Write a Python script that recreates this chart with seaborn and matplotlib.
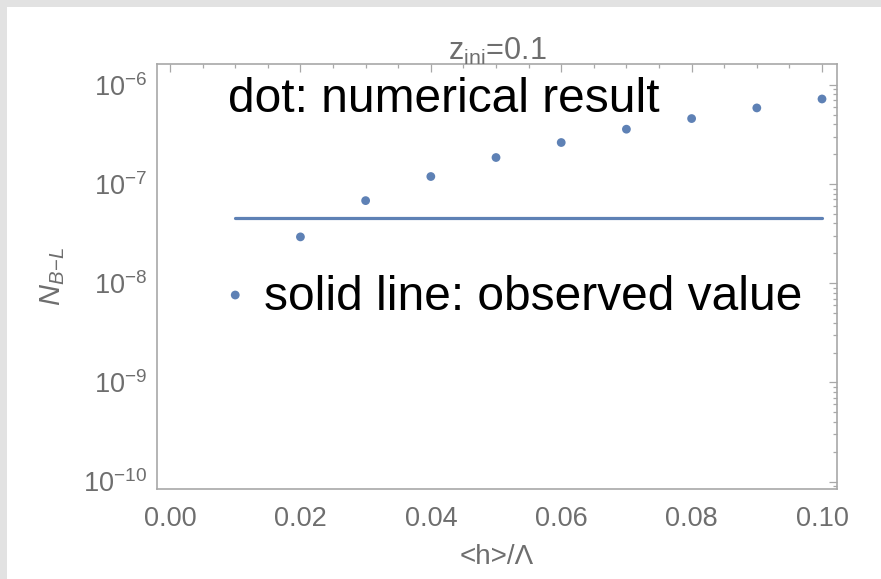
import matplotlib
matplotlib.use("Agg")
import matplotlib.pyplot as plt
import matplotlib.ticker as mticker
from matplotlib.patches import Rectangle
import numpy as np
import pandas as pd
import seaborn as sns

# ---- data ----
h_over_lambda = [0.01, 0.02, 0.03, 0.04, 0.05, 0.06, 0.07, 0.08, 0.09, 0.10]
n_bl = [7.6e-9, 2.93e-8, 6.8e-8, 1.19e-7, 1.85e-7, 2.62e-7, 3.57e-7, 4.57e-7, 5.85e-7, 7.2e-7]
obs_x = [0.01, 0.10]
obs_y = [4.5e-8, 4.5e-8]
x_ticks = [0.00, 0.02, 0.04, 0.06, 0.08, 0.10]
x_tick_labels = ["0.00", "0.02", "0.04", "0.06", "0.08", "0.10"]
title = r"z$_{\mathrm{ini}}$=0.1"
xlabel = "<h>/Λ"
ylabel = r"$N_{B\!-\!L}$"
note1 = "dot: numerical result"
note2 = "solid line: observed value"

sns.set_style("white")
plt.rcParams['font.family'] = ['Liberation Sans', 'DejaVu Sans']
plt.rcParams['mathtext.fontset'] = 'custom'
plt.rcParams['mathtext.rm'] = 'Liberation Sans'
plt.rcParams['mathtext.it'] = 'Liberation Sans:italic'
plt.rcParams['mathtext.bf'] = 'Liberation Sans:bold'

GRAY_TXT = "#6e6e6e"
FRAME = "#a8a8a8"
BLUE = "#5E81B5"

fig = plt.figure(figsize=(8.81, 5.79), dpi=100)
fig.patch.set_facecolor("white")
# light gray frame strips on the left and top
fig.patches.append(Rectangle((0, 0), 7/881, 1, transform=fig.transFigure,
                             facecolor="#e2e2e2", edgecolor="none", zorder=-10))
fig.patches.append(Rectangle((0, 1 - 7/579), 1, 7/579, transform=fig.transFigure,
                             facecolor="#e2e2e2", edgecolor="none", zorder=-10))

ax = fig.add_axes([157/881, 1 - 489/579, (837-157)/881, (489-64)/579])
ax.set_facecolor("white")

df = pd.DataFrame({"x": h_over_lambda, "y": n_bl})
line_df = pd.DataFrame({"x": obs_x, "y": obs_y})
sns.lineplot(data=line_df, x="x", y="y", ax=ax, color=BLUE, linewidth=2.3)
sns.scatterplot(data=df, x="x", y="y", ax=ax, color=BLUE, s=40, edgecolor="none", zorder=3)

ax.set_yscale("log")
ax.set_xlim(-0.002, 0.1023)
ax.set_ylim(10**-10.075, 10**-5.79)

ax.set_xticks(x_ticks)
ax.set_xticklabels(x_tick_labels)
ax.xaxis.set_minor_locator(mticker.MultipleLocator(0.005))
ax.yaxis.set_major_locator(mticker.LogLocator(base=10, numticks=20))
ax.yaxis.set_minor_locator(mticker.LogLocator(base=10, subs=np.arange(2, 10), numticks=20))
ax.yaxis.set_minor_formatter(mticker.NullFormatter())

for s in ax.spines.values():
    s.set_color(FRAME)
    s.set_linewidth(1.2)

ax.tick_params(which="both", direction="in", top=True, right=True, color=FRAME,
               labelcolor=GRAY_TXT, labelsize=19.5, width=0.9)
ax.tick_params(which="major", length=6, pad=12)
ax.tick_params(which="minor", length=3)
ax.tick_params(axis="y", which="major", pad=7)

ax.set_xlabel(xlabel, fontsize=20, color=GRAY_TXT, labelpad=9)
ax.set_ylabel(ylabel, fontsize=21, color=GRAY_TXT, labelpad=12)
ax.set_title(title, fontsize=22, color=GRAY_TXT, pad=3)

fig.text(228/881, 1 - 112/579, note1, fontsize=34.5, color="black", va="baseline", ha="left")
fig.text(264/881, 1 - 310/579, note2, fontsize=34.5, color="black", va="baseline", ha="left")

fig.savefig("out.png", dpi=100, facecolor=fig.get_facecolor())
